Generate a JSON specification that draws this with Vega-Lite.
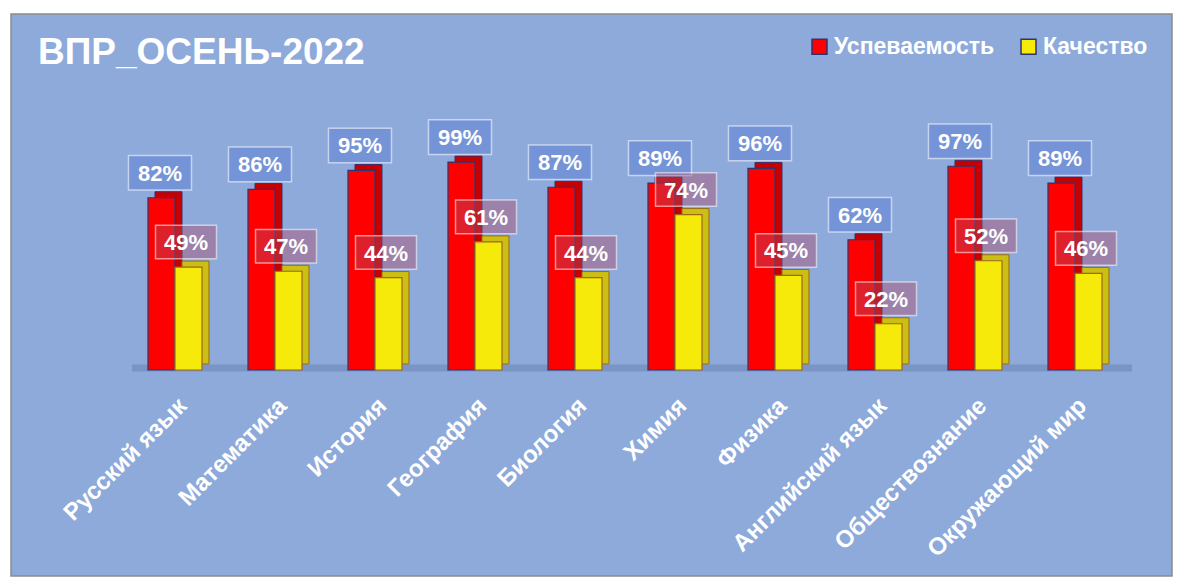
{
  "$schema": "https://vega.github.io/schema/vega-lite/v6.json",
  "width": 1161,
  "height": 562,
  "autosize": "none",
  "padding": {"left": 11, "top": 14, "right": 12, "bottom": 2},
  "background": "white",
  "title": {"text": "ВПР_ОСЕНЬ-2022", "anchor": "start", "frame": "group", "orient": "top", "offset": -87, "baseline": "alphabetic", "dx": 27, "font": "Liberation Sans", "fontSize": 37, "fontWeight": "bold", "color": "white"},
  "config": {"view": {"fill": "#8EAADB", "stroke": "#8c8c8c", "strokeWidth": 1.5}},
  "data": {"values": [
    {"cat": "Русский язык", "s": "Успеваемость", "v": 0.82},
    {"cat": "Математика", "s": "Успеваемость", "v": 0.86},
    {"cat": "История", "s": "Успеваемость", "v": 0.95},
    {"cat": "География", "s": "Успеваемость", "v": 0.99},
    {"cat": "Биология", "s": "Успеваемость", "v": 0.87},
    {"cat": "Химия", "s": "Успеваемость", "v": 0.89},
    {"cat": "Физика", "s": "Успеваемость", "v": 0.96},
    {"cat": "Английский язык", "s": "Успеваемость", "v": 0.62},
    {"cat": "Обществознание", "s": "Успеваемость", "v": 0.97},
    {"cat": "Окружающий мир", "s": "Успеваемость", "v": 0.89},
    {"cat": "Русский язык", "s": "Качество", "v": 0.49},
    {"cat": "Математика", "s": "Качество", "v": 0.47},
    {"cat": "История", "s": "Качество", "v": 0.44},
    {"cat": "География", "s": "Качество", "v": 0.61},
    {"cat": "Биология", "s": "Качество", "v": 0.44},
    {"cat": "Химия", "s": "Качество", "v": 0.74},
    {"cat": "Физика", "s": "Качество", "v": 0.45},
    {"cat": "Английский язык", "s": "Качество", "v": 0.22},
    {"cat": "Обществознание", "s": "Качество", "v": 0.52},
    {"cat": "Окружающий мир", "s": "Качество", "v": 0.46}
  ]},
  "encoding": {
    "x": {"field": "cat", "type": "nominal",
      "scale": {"domain": ["Русский язык", "Математика", "История", "География", "Биология", "Химия", "Физика", "Английский язык", "Обществознание", "Окружающий мир"], "paddingInner": 0, "paddingOuter": 0.805, "align": 0.708},
      "axis": {"orient": "bottom", "offset": -206, "title": null, "ticks": false, "domain": false, "labelAngle": -45, "labelAlign": "right", "labelBaseline": "middle", "labelPadding": 32, "labelOffset": 8, "labelFont": "Liberation Sans", "labelFontWeight": "bold", "labelFontSize": 24, "labelColor": "white", "labelLimit": 400, "labelOverlap": false}},
    "y": {"field": "v", "type": "quantitative", "scale": {"domain": [-0.981, 1.695]}, "axis": null}
  },
  "layer": [
    {
      "transform": [{"filter": "datum.s === 'Успеваемость'"}],
      "mark": {"type": "rule", "color": "#5f74a8", "strokeWidth": 7, "opacity": 0.4, "xOffset": -43, "x2Offset": 57, "yOffset": -2},
      "encoding": {
        "x2": {"field": "cat"},
        "y": {"datum": 0, "type": "quantitative"}
      }
    },
    {
      "transform": [{"filter": "datum.s === 'Успеваемость'"}],
      "mark": {"type": "bar", "width": 27, "xOffset": -6.5, "yOffset": -6, "y2Offset": -6, "fill": "#c40000", "stroke": "#3a2f6e", "strokeWidth": 1}
    },
    {
      "transform": [{"filter": "datum.s === 'Успеваемость'"}],
      "mark": {"type": "bar", "width": 27, "xOffset": -13.5, "stroke": "#2e3570", "strokeWidth": 1.2, "opacity": 1},
      "encoding": {
        "color": {"field": "s", "type": "nominal",
          "scale": {"domain": ["Успеваемость", "Качество"], "range": ["#ff0000", "#f5ea0a"]},
          "legend": {"orient": "none", "legendX": 797, "legendY": 21, "direction": "horizontal", "title": null, "padding": 0, "symbolType": "square", "symbolSize": 225, "symbolStrokeWidth": 1.5, "symbolOpacity": 1, "labelFontSize": 23, "labelFont": "Liberation Sans", "labelFontWeight": "bold", "labelColor": "white", "labelOffset": 3, "labelLimit": 400, "columnPadding": 22,
            "encode": {"symbols": {"update": {"stroke": {"signal": "datum.value === 'Успеваемость' ? '#2f3f8f' : '#9a6a10'"}}}}}
        }
      }
    },
    {
      "transform": [{"filter": "datum.s === 'Качество'"}],
      "mark": {"type": "bar", "width": 27, "xOffset": 20.5, "yOffset": -6, "y2Offset": -6, "fill": "#cbbf14", "stroke": "#9a6a10", "strokeWidth": 1}
    },
    {
      "transform": [{"filter": "datum.s === 'Качество'"}],
      "mark": {"type": "bar", "width": 27, "xOffset": 13.5, "stroke": "#a0661a", "strokeWidth": 1.2, "opacity": 1},
      "encoding": {
        "color": {"field": "s", "type": "nominal", "scale": {"domain": ["Успеваемость", "Качество"], "range": ["#ff0000", "#f5ea0a"]}}
      }
    },
    {
      "transform": [{"filter": "datum.s === 'Успеваемость'"}],
      "mark": {"type": "point", "shape": "M-1,-0.55H1V0.55H-1Z", "size": 3969, "filled": true, "fill": "#6f8fd6", "fillOpacity": 0.8, "stroke": "#ffffff", "strokeOpacity": 0.55, "strokeWidth": 1.5, "xOffset": -15, "yOffset": -25}
    },
    {
      "transform": [{"filter": "datum.s === 'Качество'"}],
      "mark": {"type": "point", "shape": "M-1,-0.55H1V0.55H-1Z", "size": 3721, "filled": true, "fill": "#b04d67", "fillOpacity": 0.42, "stroke": "#ffffff", "strokeOpacity": 0.55, "strokeWidth": 1.5, "xOffset": 11, "yOffset": -25}
    },
    {
      "transform": [{"filter": "datum.s === 'Успеваемость'"}],
      "mark": {"type": "text", "font": "Liberation Sans", "fontWeight": "bold", "fontSize": 22, "color": "white", "align": "center", "baseline": "middle", "xOffset": -15, "yOffset": -24},
      "encoding": {"text": {"field": "v", "type": "quantitative", "format": ".0%"}}
    },
    {
      "transform": [{"filter": "datum.s === 'Качество'"}],
      "mark": {"type": "text", "font": "Liberation Sans", "fontWeight": "bold", "fontSize": 22, "color": "white", "align": "center", "baseline": "middle", "xOffset": 11, "yOffset": -24},
      "encoding": {"text": {"field": "v", "type": "quantitative", "format": ".0%"}}
    }
  ]
}
